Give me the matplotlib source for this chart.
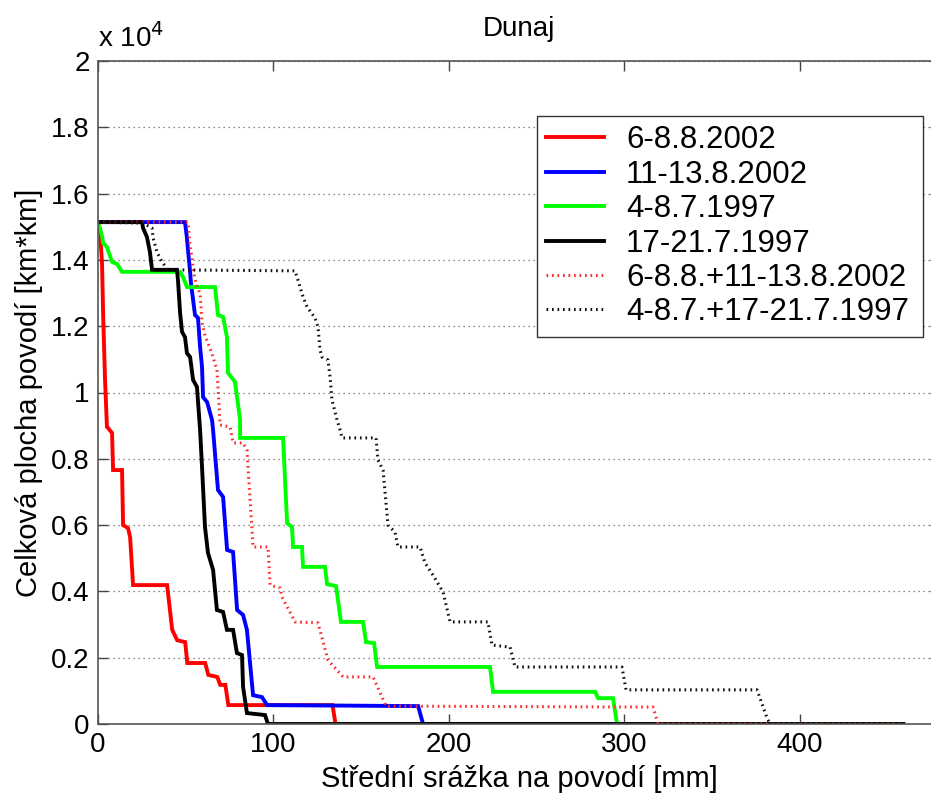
import matplotlib
matplotlib.use("Agg")
import matplotlib.pyplot as plt
from matplotlib.ticker import FuncFormatter, FixedLocator

plt.rcParams['font.family'] = ['Liberation Sans', 'DejaVu Sans']

# Data (x: mean precipitation [mm], y: area in 10^4 km*km)
red_x = [0, 1.1, 2.3, 2.9, 4.0, 5.1, 5.7, 8.0, 8.6, 13.7, 14.3, 17.1, 18.3, 20.0, 39.4, 42.3, 45.1,
         49.7, 50.9, 61.1, 62.9, 68.0, 69.7, 72.6, 74.3, 133.7, 135.4, 459]
red_y = [1.511, 1.49, 1.39, 1.24, 1.04, 0.896, 0.893, 0.878, 0.766, 0.766, 0.600, 0.591, 0.564, 0.419,
         0.419, 0.284, 0.253, 0.247, 0.184, 0.184, 0.148, 0.142, 0.118, 0.118, 0.057, 0.057, 0.0, 0.0]

blue_x = [0, 49.6, 50.7, 51.3, 52.4, 53.0, 55.3, 57.0, 58.2, 59.3, 59.9, 62.2, 65.0, 65.6, 68.4, 71.3,
          73.6, 77.0, 79.3, 82.7, 84.9, 88.4, 93.5, 96.4, 182.5, 185.3, 459]
blue_y = [1.514, 1.514, 1.466, 1.43, 1.37, 1.33, 1.234, 1.225, 1.137, 1.077, 0.986, 0.971, 0.917, 0.887,
          0.706, 0.685, 0.525, 0.519, 0.344, 0.329, 0.284, 0.087, 0.081, 0.057, 0.054, 0.0, 0.0]

green_x = [0, 1.1, 2.3, 2.9, 5.1, 8.0, 10.8, 13.7, 46.8, 48.5, 50.7, 66.7, 68.4, 71.3, 73.5, 74.1, 78.1,
           81.0, 81.0, 105.5, 107.8, 110.6, 111.2, 116.3, 116.9, 129.4, 130.6, 135.7, 138.5, 151.1,
           152.8, 157.4, 159.1, 223.5, 225.2, 283.4, 285.1, 293.6, 295.9, 459]
green_y = [1.511, 1.496, 1.472, 1.451, 1.439, 1.394, 1.388, 1.364, 1.364, 1.348, 1.318, 1.318, 1.234,
           1.228, 1.167, 1.059, 1.032, 0.917, 0.863, 0.863, 0.606, 0.594, 0.534, 0.534, 0.474, 0.474,
           0.422, 0.416, 0.308, 0.308, 0.247, 0.244, 0.172, 0.172, 0.097, 0.097, 0.078, 0.078, 0.0, 0.0]

black_x = [0, 25.1, 25.7, 27.9, 29.6, 30.8, 45.0, 45.6, 46.8, 47.9, 49.6, 50.7, 52.5, 54.2, 56.4, 58.2,
           59.3, 61.0, 62.7, 65.6, 67.8, 71.3, 73.5, 77.0, 79.2, 82.1, 82.7, 84.9, 95.2, 96.9, 459]
black_y = [1.514, 1.514, 1.496, 1.469, 1.424, 1.370, 1.370, 1.339, 1.240, 1.183, 1.167, 1.119, 1.107,
           1.038, 1.017, 0.887, 0.775, 0.594, 0.516, 0.465, 0.344, 0.338, 0.284, 0.284, 0.214, 0.208,
           0.112, 0.033, 0.027, 0.0, 0.0]

red2_x = [0, 51.3, 52.5, 53.6, 54.2, 56.4, 58.2, 59.3, 61.0, 62.7, 65.6, 67.8, 68.4, 69.6, 75.3, 77.0,
          82.7, 84.9, 88.4, 96.9, 98.1, 103.8, 104.9, 112.3, 125.4, 131.1, 139.7, 156.8, 164.2, 316.4,
          319.3, 459]
red2_y = [1.514, 1.514, 1.439, 1.409, 1.370, 1.318, 1.300, 1.210, 1.173, 1.149, 1.107, 1.068, 1.017,
          0.902, 0.896, 0.848, 0.848, 0.827, 0.534, 0.534, 0.419, 0.410, 0.383, 0.308, 0.305, 0.193,
          0.142, 0.142, 0.054, 0.051, 0.0, 0.0]

black2_x = [0, 25.7, 30.8, 31.4, 33.6, 36.5, 39.9, 112.3, 114.0, 116.9, 119.2, 123.7, 125.4, 126.6,
            127.7, 131.1, 132.3, 133.4, 136.3, 138.0, 139.1, 158.5, 159.6, 162.5, 165.3, 169.3, 171.0,
            183.6, 186.4, 191.0, 196.7, 199.5, 200.7, 222.3, 224.6, 234.9, 237.7, 298.7, 301.0, 375.7,
            381.4, 383.1, 459]
black2_y = [1.514, 1.511, 1.496, 1.466, 1.424, 1.394, 1.370, 1.367, 1.339, 1.288, 1.258, 1.225, 1.198,
            1.128, 1.107, 1.098, 1.047, 0.977, 0.917, 0.887, 0.863, 0.863, 0.796, 0.766, 0.600, 0.579,
            0.534, 0.534, 0.486, 0.449, 0.398, 0.335, 0.308, 0.308, 0.238, 0.232, 0.172, 0.172, 0.103,
            0.103, 0.018, 0.0, 0.0]

labels = ['6-8.8.2002', '11-13.8.2002', '4-8.7.1997', '17-21.7.1997',
          '6-8.8.+11-13.8.2002', '4-8.7.+17-21.7.1997']
x_ticks = [0, 100, 200, 300, 400, 500]
y_ticks = [0, 2000, 4000, 6000, 8000, 10000, 12000, 14000, 16000, 18000, 20000]

SCALE = 1e4

fig = plt.figure(figsize=(9.31, 7.98), dpi=100)
ax = fig.add_axes([98 / 931, 74 / 798, 842 / 931, 663 / 798])

series = [(red_x, red_y, '#ff0000', '-'), (blue_x, blue_y, '#0000ff', '-'),
          (green_x, green_y, '#00ff00', '-'), (black_x, black_y, '#000000', '-'),
          (red2_x, red2_y, '#ff2a2a', ':'), (black2_x, black2_y, '#111111', ':')]
for (xs, ys, c, ls), lab in zip(series, labels):
    yv = [v * SCALE for v in ys]
    if ls == '-':
        ax.plot(xs, yv, color=c, lw=2.8, label=lab, solid_joinstyle='miter')
    else:
        ax.plot(xs, yv, color=c, lw=2.2, linestyle=(0, (0.55, 1.25)), dash_capstyle='butt', label=lab)

ax.set_xlim(0, 480)
ax.set_ylim(0, 20000)
ax.xaxis.set_major_locator(FixedLocator(x_ticks))
ax.yaxis.set_major_locator(FixedLocator(y_ticks))
ax.yaxis.set_major_formatter(FuncFormatter(lambda v, p: ('%g' % (v / SCALE))))
ax.grid(axis='y', linestyle=(0, (1, 3)), color='#666666', lw=0.9)
ax.tick_params(direction='in', top=True, right=True, length=7, width=1, labelsize=20,
               color='#444444', pad=6)
for s in ax.spines.values():
    s.set_color('#555555')
    s.set_linewidth(1.2)

ax.set_title('Dunaj', fontsize=20, pad=18)
ax.set_xlabel('Střední srážka na povodí [mm]', fontsize=21, labelpad=5)
ax.set_ylabel('Celková plocha povodí [km*km]', fontsize=21, labelpad=6)
ax.text(0.0, 1.012, r'x 10$^{4}$', transform=ax.transAxes, fontsize=20, ha='left', va='bottom')

lx0 = (537 - 98) / 842
lx1 = (923 - 98) / 842
ly0 = (724 - 336) / 663
ly1 = (724 - 116) / 663
leg = ax.legend(loc='upper left', bbox_to_anchor=(lx0, ly0, lx1 - lx0, ly1 - ly0), mode='expand',
                fontsize=22.5, frameon=True, fancybox=False, edgecolor='#333333', framealpha=1,
                handlelength=1.85, handletextpad=0.7, labelspacing=0.14, borderpad=0.3,
                borderaxespad=0)
leg.get_frame().set_linewidth(1.0)

fig.savefig('out.png', dpi=100)
